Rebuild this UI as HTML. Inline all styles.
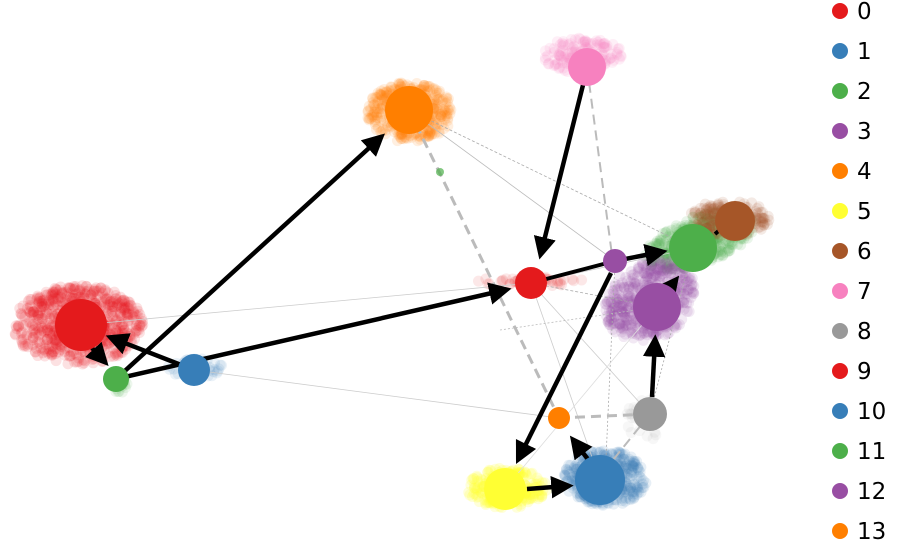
<!DOCTYPE html>
<html><head><meta charset="utf-8"><style>
html,body{margin:0;padding:0;background:#fff;width:900px;height:549px;overflow:hidden}
svg{display:block}
text{font-family:"DejaVu Sans","Liberation Sans",sans-serif;font-size:23px;fill:#000}
</style></head><body>
<svg id="s" width="900" height="549" viewBox="0 0 900 549">
<defs>
<marker id="ah" markerWidth="5" markerHeight="5" refX="3.5" refY="2.5" orient="auto" markerUnits="strokeWidth">
<path d="M0,0 L5,2.5 L0,5 z" fill="#000"/></marker>
</defs>
<g id="clouds"></g>
<g stroke="#ccc" stroke-width="0.8" fill="none">
<line x1="81" y1="325" x2="531" y2="283"/>
<line x1="194" y1="370" x2="559" y2="418"/>
<line x1="531" y1="283" x2="600" y2="480"/>
<line x1="531" y1="283" x2="650" y2="414"/>
<line x1="531" y1="283" x2="693" y2="248"/>
<line x1="409" y1="110" x2="693" y2="248" stroke-dasharray="3,2" stroke="#aaa"/>
<line x1="409" y1="110" x2="615" y2="261" stroke="#bbb"/>
<line x1="615" y1="261" x2="605" y2="480" stroke-dasharray="2,2" stroke="#aaa"/>
<line x1="657" y1="307" x2="505" y2="489" stroke="#ddd"/>
<line x1="693" y1="248" x2="650" y2="414" stroke-dasharray="2,2" stroke="#aaa"/>
<line x1="531" y1="283" x2="657" y2="307" stroke-dasharray="3,2" stroke="#aaa"/>
<line x1="500" y1="330" x2="657" y2="307" stroke-dasharray="2,2" stroke="#bbb"/>
</g>
<g stroke="#bbb" stroke-width="3" fill="none" stroke-dasharray="10,6">
<line x1="409" y1="110" x2="559" y2="418"/>
<line x1="587" y1="67" x2="612" y2="255" stroke-width="2"/>
<line x1="559" y1="418" x2="650" y2="414"/>
<line x1="650" y1="414" x2="605" y2="470" stroke-width="2"/>
</g>
<g stroke="#000" stroke-width="4.5" fill="none" marker-end="url(#ah)">
<line x1="194" y1="370" x2="112" y2="338"/>
<line x1="92" y1="348" x2="104" y2="361"/>
<line x1="116" y1="379" x2="380" y2="138"/>
<line x1="116" y1="379" x2="505" y2="290"/>
<line x1="583" y1="85" x2="541" y2="253"/>
<line x1="615" y1="261" x2="661" y2="252"/>
<line x1="611" y1="273" x2="519" y2="458"/>
<line x1="527" y1="489" x2="567" y2="486"/>
<line x1="590" y1="462" x2="574" y2="441"/>
<line x1="652" y1="397" x2="655" y2="341"/>
<line x1="668" y1="290" x2="675" y2="281"/>
</g>
<line x1="531" y1="283" x2="615" y2="261" stroke="#000" stroke-width="4"/>
<line x1="715" y1="234" x2="722" y2="228" stroke="#000" stroke-width="4"/>
<g>
<circle cx="440" cy="172" r="4" fill="#4daf4a" opacity="0.7"/>
<circle cx="81" cy="325" r="26" fill="#e41a1c"/>
<circle cx="194" cy="370" r="16" fill="#377eb8"/>
<circle cx="116" cy="379" r="13" fill="#4daf4a"/>
<circle cx="409" cy="110" r="24" fill="#ff7f00"/>
<circle cx="587" cy="67" r="19" fill="#f781bf"/>
<circle cx="531" cy="283" r="16" fill="#e41a1c"/>
<circle cx="615" cy="261" r="12" fill="#984ea3"/>
<circle cx="693" cy="248" r="24" fill="#4daf4a"/>
<circle cx="735" cy="221" r="20" fill="#a65628"/>
<circle cx="657" cy="307" r="24" fill="#984ea3"/>
<circle cx="650" cy="414" r="17" fill="#999999"/>
<circle cx="559" cy="418" r="11" fill="#ff7f00"/>
<circle cx="600" cy="480" r="25" fill="#377eb8"/>
<circle cx="505" cy="489" r="21" fill="#ffff33"/>
</g>
<g id="leg"></g>
</svg>
<script>
var NS="http://www.w3.org/2000/svg";
var seed=7;function r(){seed=(seed*16807)%2147483647;return seed/2147483647;}
var cl=document.getElementById("clouds");
function cloud(cx,cy,sx,sy,n,col,op,rot){rot=rot||0;var c=Math.cos(rot),s=Math.sin(rot);
for(var i=0;i<n;i++){var a=r()*6.2832,d=Math.pow(r(),0.6);var x=Math.cos(a)*d*sx,y=Math.sin(a)*d*sy;var e=document.createElementNS(NS,"circle");
e.setAttribute("cx",cx+x*c-y*s);e.setAttribute("cy",cy+x*s+y*c);e.setAttribute("r",5.5);
e.setAttribute("fill",col);e.setAttribute("fill-opacity",op);cl.appendChild(e);}}
cloud(78,325,65,40,700,"#e41a1c",0.13);
cloud(195,368,28,11,60,"#377eb8",0.1);
cloud(118,385,10,8,20,"#4daf4a",0.1);
cloud(410,112,43,30,400,"#ff7f00",0.12);
cloud(583,55,40,18,150,"#f781bf",0.13);
cloud(530,282,58,5,50,"#e41a1c",0.1);
cloud(700,240,58,24,450,"#4daf4a",0.12,-0.35);
cloud(730,218,40,18,220,"#a65628",0.12);
cloud(650,300,48,38,500,"#984ea3",0.12,-0.6);
cloud(605,478,42,28,400,"#377eb8",0.12);
cloud(507,488,40,20,250,"#ffff33",0.18);
cloud(645,420,20,22,30,"#999999",0.08);
var cols=["#e41a1c","#377eb8","#4daf4a","#984ea3","#ff7f00","#ffff33","#a65628","#f781bf","#999999","#e41a1c","#377eb8","#4daf4a","#984ea3","#ff7f00"];
var lg=document.getElementById("leg");
for(var i=0;i<14;i++){var y=11+i*40;var c=document.createElementNS(NS,"circle");
c.setAttribute("cx",840);c.setAttribute("cy",y);c.setAttribute("r",8);c.setAttribute("fill",cols[i]);lg.appendChild(c);
var t=document.createElementNS(NS,"text");t.setAttribute("x",857);t.setAttribute("y",y+8);t.textContent=i;lg.appendChild(t);}
</script>
</body></html>
